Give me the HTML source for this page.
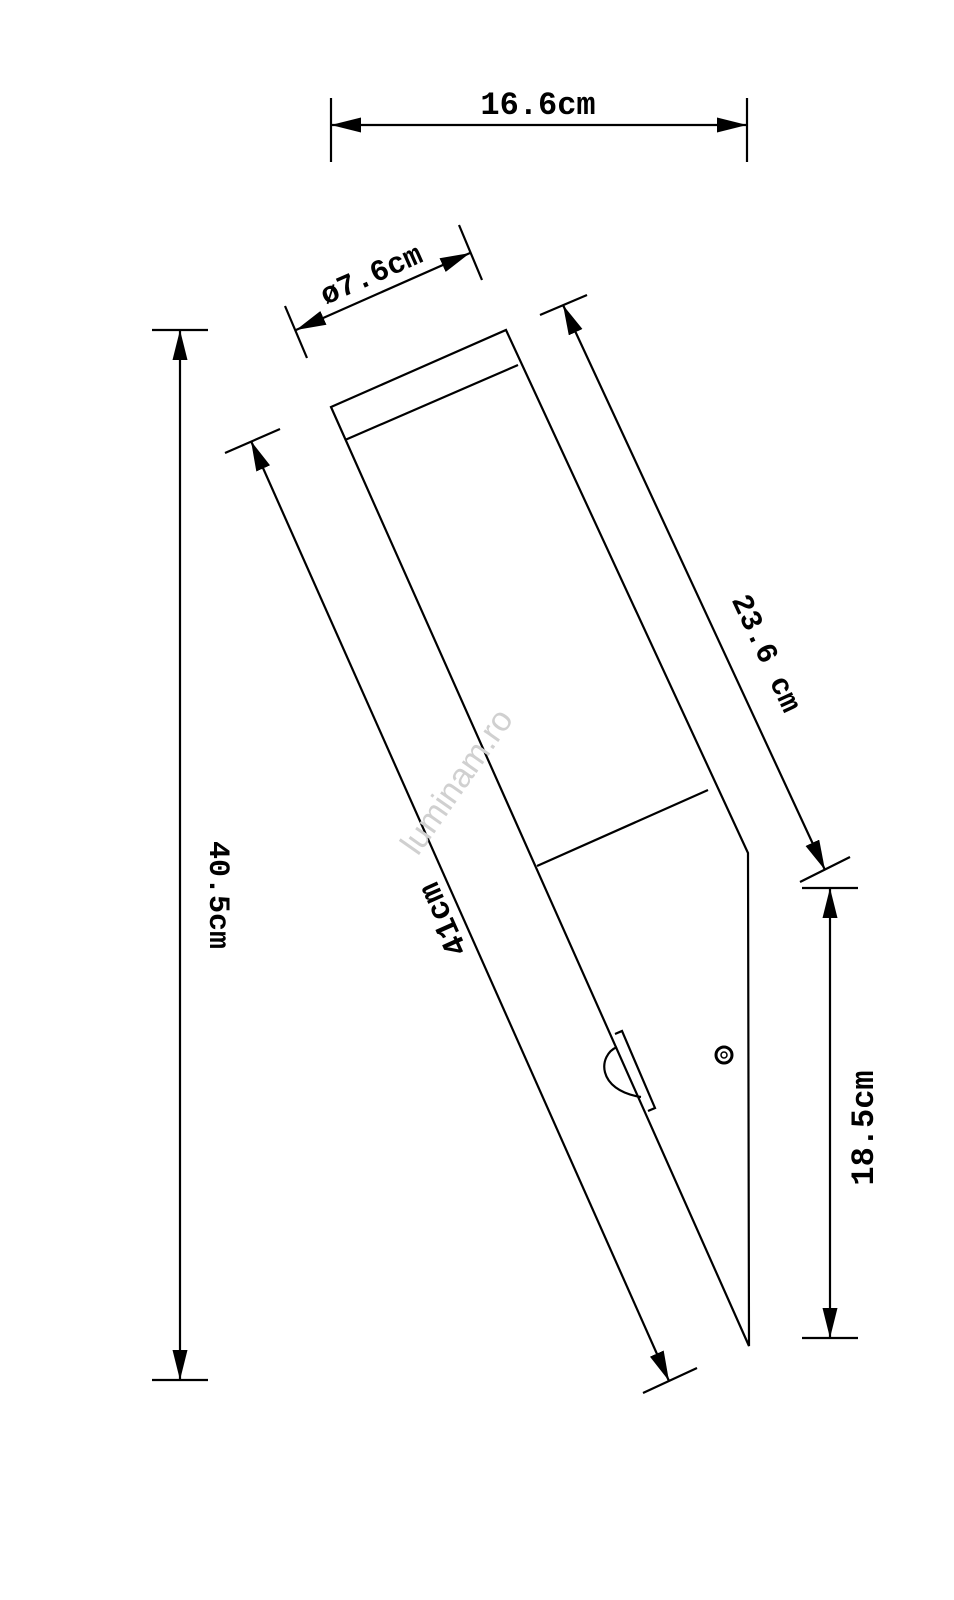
<!DOCTYPE html>
<html><head><meta charset="utf-8"><style>
html,body{margin:0;padding:0;background:#fff;width:954px;height:1600px;overflow:hidden}
svg text{font-family:"Liberation Mono",monospace;font-weight:bold;fill:#000}
</style></head><body>
<svg width="954" height="1600" viewBox="0 0 954 1600" xmlns="http://www.w3.org/2000/svg">
<defs>
<marker id="a" viewBox="0 0 20 10" refX="20" refY="5" markerWidth="30" markerHeight="15" markerUnits="userSpaceOnUse" orient="auto-start-reverse">
<path d="M0,0 L20,5 L0,10 Z" fill="#000"/></marker>
</defs>
<g stroke="#000" stroke-width="2.2" fill="none">
<path d="M331,407 L506,330 L748,853 L749,1346 Z"/>
<line x1="345" y1="440" x2="518" y2="365"/>
<line x1="537" y1="866" x2="708" y2="790"/>
<path d="M615,1034 L622,1031 L655,1108 L648,1111"/>
<path d="M617,1047 C598,1055 596,1090 641,1097"/>
<circle cx="724" cy="1055" r="8" stroke-width="3"/>
<circle cx="724" cy="1055" r="3" stroke-width="1.5"/>
<line x1="331" y1="98" x2="331" y2="162"/>
<line x1="747" y1="98" x2="747" y2="162"/>
<line x1="331" y1="125" x2="747" y2="125" marker-start="url(#a)" marker-end="url(#a)"/>
<line x1="152" y1="330" x2="208" y2="330"/>
<line x1="152" y1="1380" x2="208" y2="1380"/>
<line x1="180" y1="330" x2="180" y2="1380" marker-start="url(#a)" marker-end="url(#a)"/>
<line x1="802" y1="888" x2="858" y2="888"/>
<line x1="802" y1="1338" x2="858" y2="1338"/>
<line x1="830" y1="888" x2="830" y2="1338" marker-start="url(#a)" marker-end="url(#a)"/>
<line x1="225" y1="453" x2="280" y2="429"/>
<line x1="643" y1="1393" x2="697" y2="1368"/>
<line x1="251" y1="441" x2="669" y2="1381" marker-start="url(#a)" marker-end="url(#a)"/>
<line x1="540" y1="315" x2="587" y2="295"/>
<line x1="800" y1="882" x2="850" y2="857"/>
<line x1="563" y1="305" x2="825" y2="870" marker-start="url(#a)" marker-end="url(#a)"/>
<line x1="285" y1="306" x2="307" y2="358"/>
<line x1="459" y1="225" x2="482" y2="280"/>
<line x1="296" y1="330" x2="470" y2="253" marker-start="url(#a)" marker-end="url(#a)"/>
</g>
<text x="538" y="114" font-size="32" text-anchor="middle">16.6cm</text>
<text transform="translate(210,895) rotate(90)" font-size="30" text-anchor="middle">40.5cm</text>
<text transform="translate(873,1128) rotate(-90)" font-size="32" text-anchor="middle">18.5cm</text>
<text transform="translate(442,920) rotate(-114)" font-size="32" text-anchor="middle" dy="11">41cm</text>
<text transform="translate(758,657) rotate(65)" font-size="30" text-anchor="middle">23.6 cm</text>
<text transform="translate(375,283) rotate(-24)" font-size="30" text-anchor="middle">ø7.6cm</text>
<text transform="translate(466,788) rotate(-55)" font-size="34" text-anchor="middle" style="font-family:'Liberation Sans',sans-serif;font-weight:normal;fill:#d0d0d0">luminam.ro</text>
</svg>
</body></html>
